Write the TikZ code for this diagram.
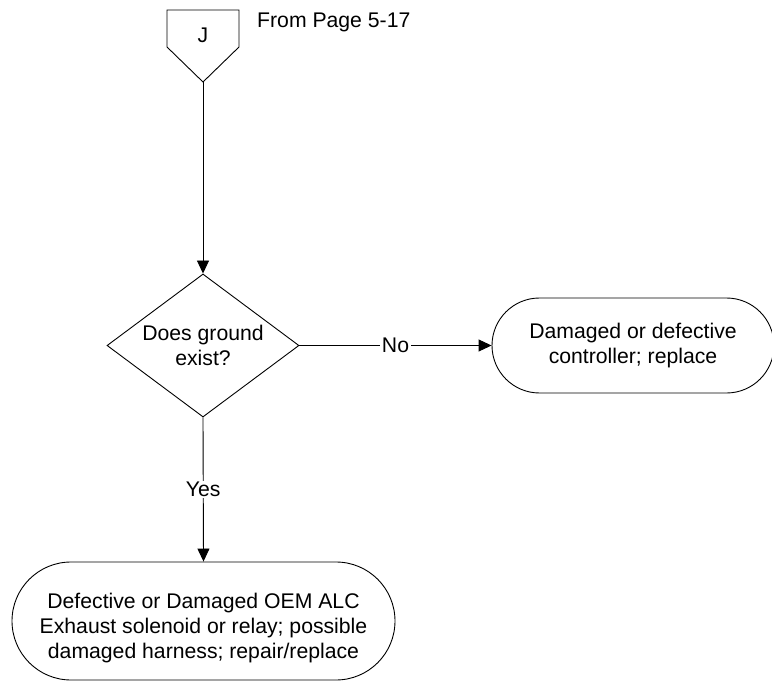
\documentclass[tikz,border=0pt]{standalone}
\usepackage{fontspec}
\setmainfont{Liberation Sans}
\usetikzlibrary{shapes.geometric,shapes.misc,arrows.meta,calc}

\begin{document}
\begin{tikzpicture}[x=1pt, y=-1pt,
  every node/.style={font=\fontsize{21.2}{25}\selectfont},
  line/.style={line width=0.9pt},
  arrowline/.style={line, -{Triangle[length=13pt,width=12pt]}},
  decision/.style={diamond, draw, line width=0.9pt, aspect=1.34, inner sep=0pt,
    minimum width=192pt, minimum height=143pt, align=center},
  terminal/.style={rounded rectangle, draw, line width=0.9pt, inner sep=0pt, align=center},
  plaintext/.style={inner sep=0pt, align=center},
  edgelabel/.style={fill=white, inner sep=1.5pt}
]
\useasboundingbox (0,0) rectangle (772,682);

% off-page connector J
\draw[line] (167,10) -- (239,10) -- (239,47) -- (203,82) -- (167,47) -- cycle;
\coordinate (jtip) at (203,82);
\node[plaintext, anchor=base] (jlabel) at (203,43) {J};
\node[plaintext, anchor=base west] (frompage) at (257,28) {From Page 5-17};

% decision
\node[decision] (ground) at (203,345.5) {Does ground\\exist?};

% outcome: controller
\node[terminal, minimum width=282pt, minimum height=95pt] (ctrl) at (633,345.5)
  {Damaged or defective\\controller; replace};

% outcome: solenoid / relay / harness
\node[terminal, minimum width=383pt, minimum height=118pt] (harness) at (203.5,621) {};
\node[plaintext] (harnesstext) at (203.5,628)
  {Defective or Damaged OEM ALC\\Exhaust solenoid or relay; possible\\damaged harness; repair/replace};

% connectors
\draw[arrowline] (jtip) -- (ground.north);
\draw[arrowline] (ground.east) -- node[edgelabel] (nolabel) {No} (ctrl.west);
\draw[arrowline] (ground.south) -- node[edgelabel] (yeslabel) {Yes} (harness.north);
\end{tikzpicture}
\end{document}
